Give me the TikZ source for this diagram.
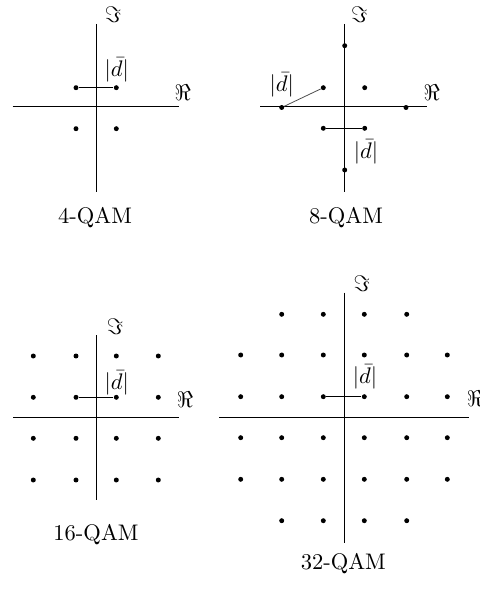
\documentclass[tikz,border=0pt]{standalone}
\begin{document}
\begin{tikzpicture}[x=0.444pt,y=-0.444pt,
  axis/.style={line width=0.65pt},
  dot/.style={circle,fill=black,inner sep=0pt,minimum size=2.2pt},
  seg/.style={line width=0.65pt},
  thinseg/.style={line width=0.35pt,black!70},
  lbl/.style={inner sep=0pt}]
\useasboundingbox (0,0) rectangle (480,591);
\clip (0,0) rectangle (480,591);
% ---------- 4-QAM ----------
\draw[axis] (12.7,106.7) -- (179.3,106.7);
\draw[axis] (96.3,24) -- (96.3,191.7);
\node[dot] (a1) at (76,87.7) {};
\node[dot] (a2) at (116.3,87.7) {};
\node[dot] (a3) at (76,128.7) {};
\node[dot] (a4) at (116.3,128.7) {};
\draw[seg] (a1) -- (a2);
\node[lbl] (ad) at (116.7,70) {$|\bar d|$};
\node[lbl] (aim) at (113,15) {$\Im$};
\node[lbl] (are) at (182.7,93) {$\Re$};
\node[lbl] (acap) at (95,218) {4-QAM};
% ---------- 8-QAM ----------
\draw[axis] (260,106.7) -- (427.3,106.7);
\draw[axis] (344.7,24) -- (344.7,191.7);
\node[dot] (b1) at (344.7,45.7) {};
\node[dot] (b2) at (323.3,87.7) {};
\node[dot] (b3) at (364.7,87.7) {};
\node[dot] (b4) at (281.7,107.5) {};
\node[dot] (b5) at (406,107.5) {};
\node[dot] (b6) at (323.3,128.3) {};
\node[dot] (b7) at (364.7,128.3) {};
\node[dot] (b8) at (344.7,170) {};
\draw[thinseg] (b4) -- (b2);
\draw[seg] (b6) -- (b7);
\node[lbl] (bd1) at (281.7,85) {$|\bar d|$};
\node[lbl] (bd2) at (366,151.7) {$|\bar d|$};
\node[lbl] (bim) at (359.3,15) {$\Im$};
\node[lbl] (bre) at (431.7,93) {$\Re$};
\node[lbl] (bcap) at (346,218) {8-QAM};
% ---------- 16-QAM ----------
\draw[axis] (13,417.3) -- (179.3,417.3);
\draw[axis] (96.3,335) -- (96.3,500);
\foreach \x [count=\i] in {33.3,76,116.3,158.3}
  \foreach \y [count=\j] in {356,397.3,438.3,480}
    \node[dot] (c\i\j) at (\x,\y) {};
\draw[seg] (c22) -- (c32);
\node[lbl] (cd) at (116.7,383.3) {$|\bar d|$};
\node[lbl] (cim) at (115,326.7) {$\Im$};
\node[lbl] (cre) at (185,400) {$\Re$};
\node[lbl] (ccap) at (96,535) {16-QAM};
% ---------- 32-QAM ----------
\draw[axis] (219.3,417.3) -- (469.3,417.3);
\draw[axis] (344.7,292.7) -- (344.7,542.7);
\foreach \x [count=\i] in {240.7,281.7,323.3,364.3,406.7,447.3}
  \foreach \y [count=\j] in {314.3,355,396.7,437.7,479.3,520.7}
  {
    \pgfmathtruncatemacro{\corner}{((\i==1)||(\i==6))&&((\j==1)||(\j==6))}
    \ifnum\corner=0
      \node[dot] (e\i\j) at (\x,\y) {};
    \fi
  }
\draw[seg] (e33) -- (e43);
\node[lbl] (ed) at (365,376.7) {$|\bar d|$};
\node[lbl] (eim) at (361.7,283.3) {$\Im$};
\node[lbl] (ere) at (475,398.3) {$\Re$};
\node[lbl] (ecap) at (343.3,563.3) {32-QAM};
\end{tikzpicture}
\end{document}
